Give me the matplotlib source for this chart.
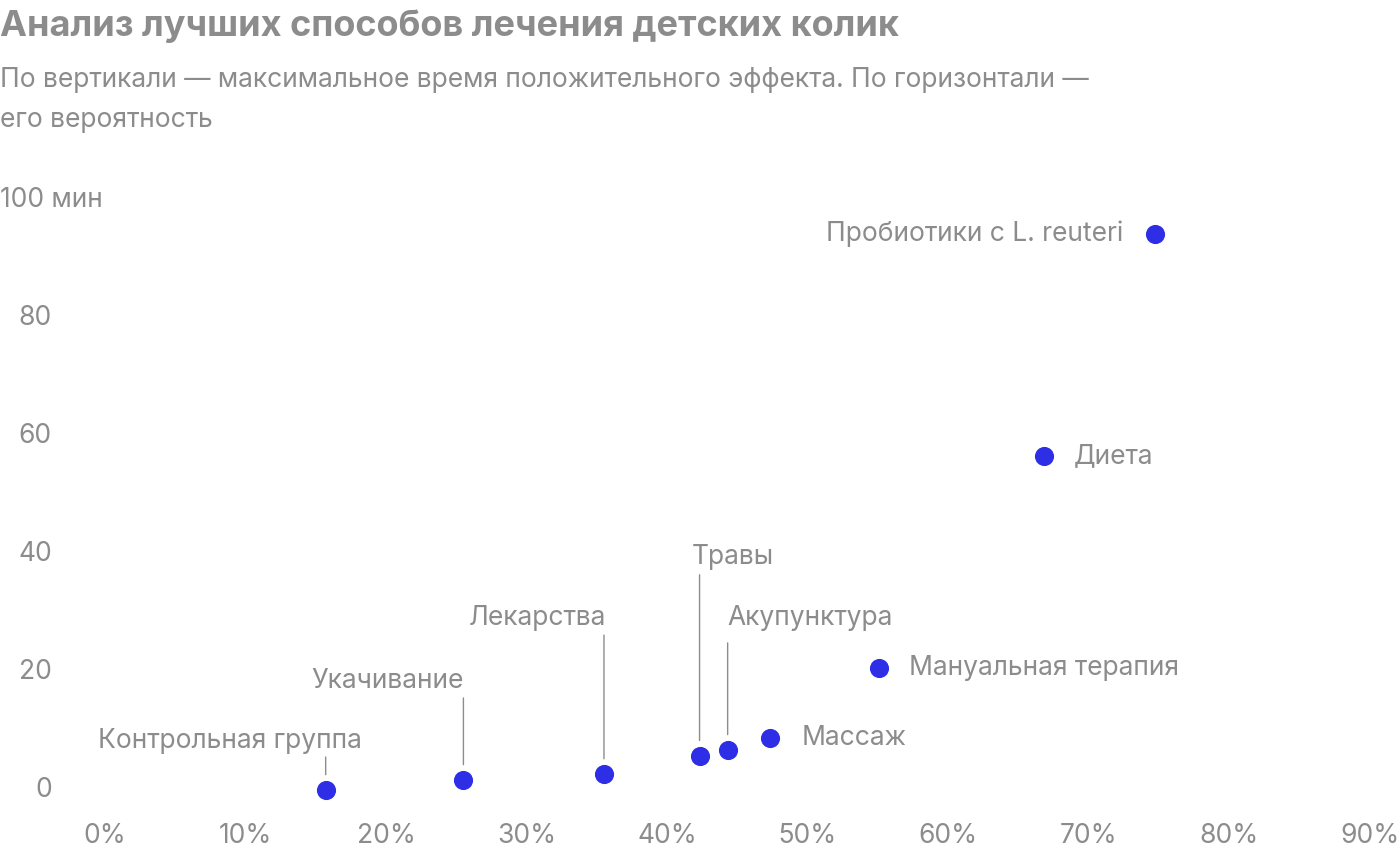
import matplotlib
matplotlib.use("Agg")
import matplotlib.pyplot as plt

labels = ["Контрольная группа", "Укачивание", "Лекарства", "Травы", "Акупунктура",
          "Массаж", "Мануальная терапия", "Диета", "Пробиотики с L. reuteri"]
prob = [15.7, 25.5, 35.5, 42.3, 44.3, 47.3, 55.1, 66.8, 74.7]
minutes = [0.0, 1.7, 2.7, 5.8, 6.8, 8.8, 20.7, 56.6, 94.2]
x_ticks = [0, 10, 20, 30, 40, 50, 60, 70, 80, 90]
y_ticks = [0, 20, 40, 60, 80, 100]
y_tick_labels = ["0", "20", "40", "60", "80", "100 мин"]

# layout: (dx, dy, ha, leader line top) in pixels
layout = [(-96, 49, "center", 33), (-76, 99, "center", 82), (-67, 156, "center", 139),
          (33, 199, "center", 181), (82, 132, "center", 107), (32, 0, "left", None),
          (30, 0, "left", None), (30, 0, "left", None), (-32, 0, "right", None)]

plt.rcParams["font.family"] = "Inter"
GRAY = "#8c8c8c"
FS = 19
fig = plt.figure(figsize=(14, 8.6), dpi=100)
ax = fig.add_axes([105/1400, 70/860, 1265/1400, 590/860])
ax.set_xlim(0, 90)
ax.set_ylim(0, 100)
for s in ax.spines.values():
    s.set_visible(False)
ax.tick_params(length=0, labelsize=FS, colors=GRAY)
ax.set_xticks(x_ticks)
ax.set_xticklabels([f"{t}%" for t in x_ticks])
ax.tick_params(axis="x", pad=24)
ax.set_yticks(y_ticks)
ax.set_yticklabels([])
for t, lab in zip(y_ticks, y_tick_labels):
    if lab.endswith("мин"):
        ax.annotate(lab, xy=(0, t), xytext=(-105, 0), textcoords="offset pixels",
                    ha="left", va="center", fontsize=FS, color=GRAY, annotation_clip=False)
    else:
        ax.annotate(lab, xy=(0, t), xytext=(-53, 0), textcoords="offset pixels",
                    ha="right", va="center", fontsize=FS, color=GRAY, annotation_clip=False)

ax.scatter(prob, minutes, s=190, color="#2e2ee6", zorder=3, clip_on=False, linewidths=0)
for lab, x, y, (dx, dy, ha, top) in zip(labels, prob, minutes, layout):
    ax.annotate(lab, xy=(x, y), xytext=(dx, dy), textcoords="offset pixels",
                ha=ha, va="center", fontsize=FS, color=GRAY, annotation_clip=False)
    if top is not None:
        ax.annotate("", xy=(x, y), xytext=(0, top), textcoords="offset pixels",
                    arrowprops=dict(arrowstyle="-", color=GRAY, lw=1, shrinkA=0, shrinkB=11),
                    annotation_clip=False)

fig.text(0, 1 - 26/860, "Анализ лучших способов лечения детских колик", fontsize=26,
         fontweight="bold", color=GRAY, va="center", ha="left")
fig.text(0, 1 - 80/860, "По вертикали — максимальное время положительного эффекта. По горизонтали —",
         fontsize=FS, color=GRAY, va="center", ha="left")
fig.text(0, 1 - 120/860, "его вероятность", fontsize=FS, color=GRAY, va="center", ha="left")
fig.savefig("out.png", dpi=100)
